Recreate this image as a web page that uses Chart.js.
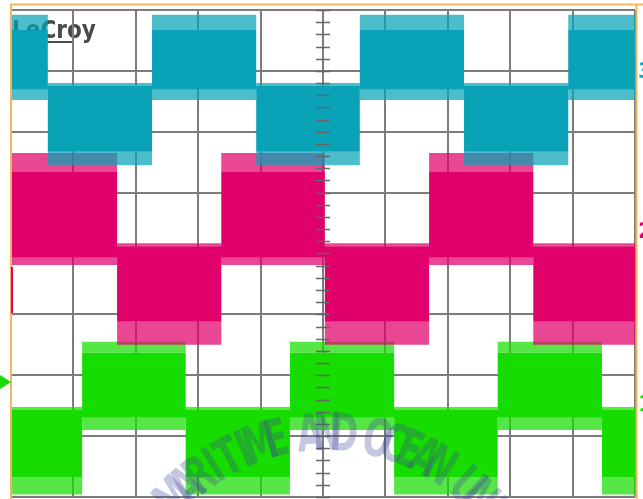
<!DOCTYPE html>
<html>
<head>
<meta charset="utf-8">
<script src="https://cdn.jsdelivr.net/npm/chart.js@4.4.1/dist/chart.umd.min.js"></script>
<style>
html,body{margin:0;padding:0;background:#fff;}
canvas{display:block;}
</style>
</head>
<body>
<canvas id="scope" width="643" height="499"></canvas>
<script>
// ecrã do osciloscópio: 10 divisões na horizontal, 8 na vertical
var divX = [0, 10];
var divY = [-4, 4];

// instantes de comutação (em divisões) de cada canal e estado (1=alto, 0=baixo)
var c3Edges = [0, 0.59, 2.26, 3.93, 5.59, 7.26, 8.93];
var c3State = [1, 0, 1, 0, 1, 0, 1];
var c2Edges = [0, 1.70, 3.37, 5.03, 6.70, 8.37];
var c2State = [1, 0, 1, 0, 1, 0];
var c1Edges = [0, 1.14, 2.80, 4.47, 6.14, 7.80, 9.47];
var c1State = [0, 1, 0, 1, 0, 1, 0];

// níveis [pico cima, topo, fundo, pico baixo] do nível alto e do baixo
var c3High = [3.92, 3.67, 2.69, 2.52];
var c3Low  = [2.80, 2.75, 1.67, 1.45];
var c2High = [1.65, 1.34, -0.07, -0.19];
var c2Low  = [0.17, 0.12, -1.12, -1.50];
var c1High = [-1.45, -1.63, -2.70, -2.90];
var c1Low  = [-2.52, -2.57, -3.68, -3.96];

var marca = "MARITIME AND OCEAN UNIVERSITY";

function Canal(edges, state, high, low, cor, corFraca){
    var sets = [];
    for(var k = 0; k < 4; k++){
        var pts = [];
        for(var i in edges){
            pts.push({x: edges[i], y: (state[i] ? high : low)[k]});
        }
        pts.push({x: divX[1], y: pts[pts.length-1].y});
        sets.push({
            data: pts,
            stepped: true,
            borderColor: 'transparent',
            borderWidth: 0,
            pointRadius: 0,
            backgroundColor: k == 1 ? cor : corFraca,
            fill: k < 3 ? '+1' : false
        });
    }
    return sets;
}

var datasets = []
    .concat(Canal(c3Edges, c3State, c3High, c3Low, '#09a2b7', 'rgba(9,162,183,0.72)'))
    .concat(Canal(c2Edges, c2State, c2High, c2Low, '#e1006b', 'rgba(225,0,107,0.72)'))
    .concat(Canal(c1Edges, c1State, c1High, c1Low, '#16dc00', 'rgba(22,220,0,0.72)'));

var osciloscopio = {
    id: 'osciloscopio',
    beforeDraw: function(chart){
        var ctx = chart.ctx;
        ctx.save();
        ctx.fillStyle = '#fff';
        ctx.fillRect(0, 0, chart.width, chart.height);
        // logotipo, fica por baixo dos traços
        ctx.fillStyle = '#4a4a4a';
        ctx.font = 'bold 24px "Liberation Sans Narrow", "DejaVu Sans Condensed", sans-serif';
        ctx.textBaseline = 'alphabetic';
        ctx.fillText('LeCroy', 12, 38);
        ctx.fillRect(40, 41, 32, 2);
        ctx.restore();
    },
    afterDatasetsDraw: function(chart){
        var ctx = chart.ctx, xs = chart.scales.x, ys = chart.scales.y;
        var a = chart.chartArea;
        ctx.save();
        // marcas no eixo central
        var cx = xs.getPixelForValue(5);
        ctx.strokeStyle = '#666';
        ctx.lineWidth = 1.5;
        for(var v = divY[0]; v <= divY[1] + 0.001; v += 0.2){
            var py = Math.round(ys.getPixelForValue(v)) + 0.5;
            ctx.beginPath();
            ctx.moveTo(cx - 7, py);
            ctx.lineTo(cx + 7, py);
            ctx.stroke();
        }
        // moldura laranja
        ctx.strokeStyle = '#f3b65c';
        ctx.lineWidth = 2;
        ctx.beginPath();
        ctx.moveTo(a.left, chart.height);
        ctx.lineTo(a.left, 4.5);
        ctx.lineTo(chart.width, 4.5);
        ctx.moveTo(a.right + 1.5, 4.5);
        ctx.lineTo(a.right + 1.5, chart.height);
        ctx.stroke();
        // indicadores dos canais
        ctx.font = 'bold 22px "DejaVu Sans", sans-serif';
        ctx.textBaseline = 'middle';
        ctx.fillStyle = '#09a2b7';
        ctx.fillText('3', a.right + 3, 72);
        ctx.fillStyle = '#e1006b';
        ctx.fillText('2', a.right + 3, 232);
        ctx.fillStyle = '#16dc00';
        ctx.fillText('1', a.right + 3, 405);
        ctx.beginPath();
        ctx.moveTo(0, 375);
        ctx.lineTo(a.left, 382);
        ctx.lineTo(0, 389);
        ctx.closePath();
        ctx.fill();
        ctx.fillStyle = '#e1006b';
        ctx.fillRect(a.left, 267, 2, 46);
        // marca d'água em arco
        ctx.fillStyle = 'rgba(60,70,150,0.3)';
        ctx.font = 'bold 52px "Liberation Sans Narrow", "DejaVu Sans Condensed", sans-serif';
        ctx.textAlign = 'center';
        ctx.textBaseline = 'alphabetic';
        for(var i = 0; i < marca.length; i++){
            ctx.save();
            ctx.translate(327, 645);
            ctx.rotate((i - 10) * 4.6 * Math.PI / 180);
            ctx.translate(0, -195);
            ctx.scale(0.72, 1);
            ctx.fillText(marca[i], 0, 0);
            ctx.restore();
        }
        ctx.restore();
    }
};

var chart = new Chart(document.getElementById('scope').getContext('2d'), {
    type: 'line',
    data: {datasets: datasets},
    options: {
        responsive: false,
        animation: false,
        layout: {padding: {left: 11, right: 8, top: 10, bottom: 2}},
        plugins: {legend: {display: false}, tooltip: {enabled: false}},
        scales: {
            x: {
                type: 'linear', min: divX[0], max: divX[1],
                ticks: {display: false, stepSize: 1},
                grid: {color: '#7c7c7c', lineWidth: 2, drawTicks: false},
                border: {display: false}
            },
            y: {
                type: 'linear', min: divY[0], max: divY[1],
                ticks: {display: false, stepSize: 1},
                grid: {color: '#7c7c7c', lineWidth: 2, drawTicks: false},
                border: {display: false}
            }
        }
    },
    plugins: [osciloscopio]
});
</script>
</body>
</html>
